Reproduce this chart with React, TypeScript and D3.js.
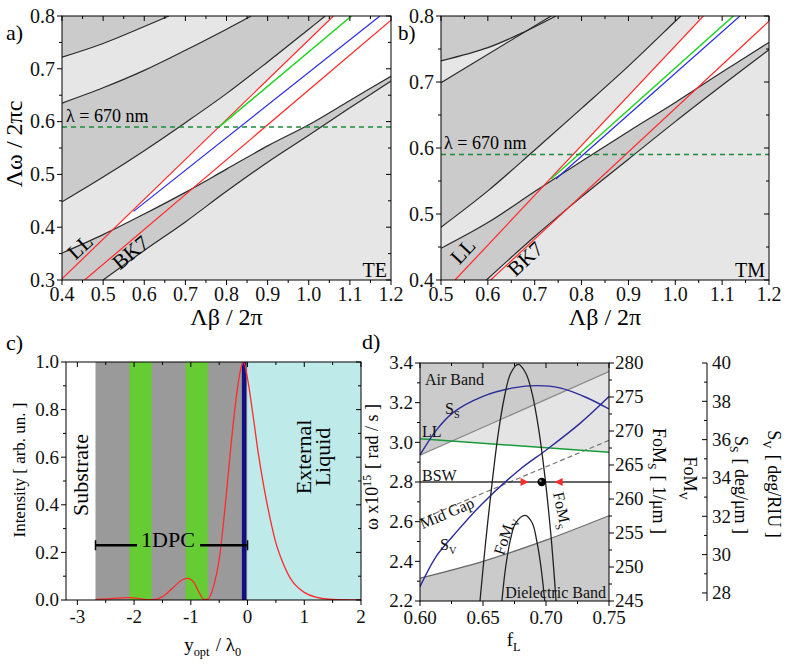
import React from "react";
import * as d3 from "d3";

type Pt = [number, number];

// ---------------- Panel a (TE) ----------------
const aXTicks = [0.4, 0.5, 0.6, 0.7, 0.8, 0.9, 1.0, 1.1, 1.2];
const aYTicks = [0.3, 0.4, 0.5, 0.6, 0.7, 0.8];
const aBand1: Pt[] = [[0.4, 0.722], [0.5, 0.748], [0.6, 0.78], [0.66, 0.8]];
const aBand2: Pt[] = [[0.4, 0.635], [0.5, 0.664], [0.6, 0.697], [0.7, 0.735], [0.8, 0.775], [0.86, 0.8]];
const aBand3: Pt[] = [[0.4, 0.448], [0.5, 0.495], [0.6, 0.545], [0.7, 0.598], [0.8, 0.653], [0.9, 0.713], [1.0, 0.775], [1.04, 0.8]];
const aBand4: Pt[] = [[0.4, 0.351], [0.5, 0.386], [0.6, 0.425], [0.7, 0.466], [0.8, 0.51], [0.9, 0.554], [1.0, 0.594], [1.1, 0.64], [1.2, 0.686]];
const aBand5: Pt[] = [[0.5, 0.3], [0.6, 0.356], [0.7, 0.41], [0.8, 0.468], [0.9, 0.523], [1.0, 0.574], [1.1, 0.626], [1.2, 0.677]];
const aLL: Pt[] = [[0.4, 0.302], [1.06, 0.8]];
const aBK7: Pt[] = [[0.455, 0.3], [1.2, 0.792]];
const aGreen: Pt[] = [[0.782, 0.59], [1.104, 0.8]];
const aBlue: Pt[] = [[0.574, 0.43], [1.173, 0.8]];

// ---------------- Panel b (TM) ----------------
const bXTicks = [0.5, 0.6, 0.7, 0.8, 0.9, 1.0, 1.1, 1.2];
const bYTicks = [0.4, 0.5, 0.6, 0.7, 0.8];
const bBand1: Pt[] = [[0.5, 0.732], [0.6, 0.752], [0.681, 0.777], [0.745, 0.8]];
const bBand2: Pt[] = [[0.5, 0.699], [0.735, 0.8]];
const bBandC: Pt[] = [[0.5, 0.48], [0.6, 0.535], [0.7, 0.597], [0.8, 0.66], [0.9, 0.724], [1.0, 0.792], [1.012, 0.8]];
const bBandD: Pt[] = [[0.5, 0.448], [0.6, 0.487], [0.7, 0.534], [0.8, 0.58], [0.9, 0.625], [1.0, 0.669], [1.1, 0.715], [1.2, 0.76]];
const bBandE: Pt[] = [[0.597, 0.4], [0.7, 0.466], [0.8, 0.526], [0.9, 0.583], [1.0, 0.64], [1.1, 0.695], [1.2, 0.749]];
const bLL: Pt[] = [[0.53, 0.4], [1.06, 0.8]];
const bBK7: Pt[] = [[0.606, 0.4], [1.2, 0.792]];
const bGreen: Pt[] = [[0.735, 0.553], [1.124, 0.8]];
const bBlue: Pt[] = [[0.745, 0.553], [1.138, 0.8]];
const lambdaLevel = 0.59;

// ---------------- Panel c (field profile) ----------------
const cXTicks = [-3, -2, -1, 0, 1, 2];
const cYTicks = [0, 0.2, 0.4, 0.6, 0.8, 1.0];
const cSubstrateEnd = -2.68;
const cGreenLayers: Pt[] = [[-2.08, -1.69], [-1.09, -0.7]];
const cMetal: Pt = [-0.1, -0.02];
const cIntX = [-2.68, -2.4, -2.1, -1.9, -1.75, -1.6, -1.45, -1.3, -1.15, -1.05, -0.95, -0.85, -0.77, -0.7, -0.6, -0.5, -0.4, -0.3, -0.2, -0.13, -0.07, 0, 0.1, 0.2, 0.3, 0.4, 0.5, 0.6, 0.7, 0.8, 0.9, 1.0, 1.2, 1.5, 2.0];
const cIntY = [0.003, 0.006, 0.01, 0.006, 0.001, 0.004, 0.022, 0.055, 0.085, 0.091, 0.075, 0.03, 0.002, 0.004, 0.056, 0.17, 0.38, 0.63, 0.85, 0.96, 1.0, 0.93, 0.77, 0.6, 0.46, 0.34, 0.24, 0.17, 0.115, 0.075, 0.05, 0.032, 0.012, 0.002, 0.0];
const cBracketY = 0.23;

// ---------------- Panel d (optimisation) ----------------
const dXTicks = [0.6, 0.65, 0.7, 0.75];
const dYTicks = [2.2, 2.4, 2.6, 2.8, 3.0, 3.2, 3.4];
const dFoMTicks = [245, 250, 255, 260, 265, 270, 275, 280];
const dSensTicks = [28, 30, 32, 34, 36, 38, 40];
const dAirLine: Pt[] = [[0.6, 2.935], [0.75, 3.357]];
const dLLLine: Pt[] = [[0.6, 3.018], [0.75, 2.95]];
const dMidGap: Pt[] = [[0.6, 2.61], [0.75, 3.01]];
const dDielectric: Pt[] = [[0.6, 2.315], [0.65, 2.4], [0.7, 2.507], [0.75, 2.63]];
const dBSW = 2.8;
const dSsX = [0.6, 0.613, 0.626, 0.65, 0.674, 0.693, 0.711, 0.732, 0.75];
const dSsY = [35.2, 36.5, 37.4, 38.26, 38.7, 38.82, 38.7, 38.2, 37.6];
const dSvX = [0.6, 0.613, 0.626, 0.65, 0.679, 0.7, 0.727, 0.75];
const dSvY = [28.33, 29.92, 30.96, 32.7, 34.43, 35.45, 36.85, 38.25];
const dFoMsX = [0.6476, 0.652, 0.657, 0.662, 0.667, 0.672, 0.678, 0.684, 0.689, 0.694, 0.699, 0.704, 0.708];
const dFoMsY = [245, 253.5, 262, 269.5, 275, 278.5, 279.8, 278.5, 275.5, 270.5, 263.5, 254.5, 245];
const dFoMvX = [0.665, 0.668, 0.672, 0.676, 0.6835, 0.689, 0.693, 0.696, 0.699];
const dFoMvY = [245, 250, 254.2, 256.5, 257.6, 256.5, 253.5, 250, 245];
const dOptimum: Pt = [0.6966, 2.8];
const dRangeMarks = [0.683, 0.71];

// ---------------- Scales ----------------
const axs = d3.scaleLinear().domain([0.4, 1.2]).range([62, 391]);
const ays = d3.scaleLinear().domain([0.3, 0.8]).range([280, 16]);
const bxs = d3.scaleLinear().domain([0.5, 1.2]).range([441, 769]);
const bys = d3.scaleLinear().domain([0.4, 0.8]).range([280, 16]);
const cxs = d3.scaleLinear().domain([-3.2, 2]).range([66, 361]);
const cys = d3.scaleLinear().domain([0, 1]).range([600, 362]);
const dxs = d3.scaleLinear().domain([0.6, 0.75]).range([420, 609]);
const dys = d3.scaleLinear().domain([2.2, 3.4]).range([601, 363]);
const dFoM = d3.scaleLinear().domain([245, 280]).range([601, 363]);
const dSens = d3.scaleLinear().domain([27.58, 40]).range([601, 363]);

const FONT = "'Liberation Serif', 'Times New Roman', serif";
const DARK = "#cbcbcb";
const LIGHT = "#e6e6e6";
const RED = "#ff2a2a";
const GREEN = "#22d422";
const BLUE = "#2a2ae0";
const LINE = "#2a2a2a";

function tools(xs: any, ys: any) {
  const cur = d3.line<Pt>().x(d => xs(d[0])).y(d => ys(d[1])).curve(d3.curveCatmullRom.alpha(0.5));
  const lin = d3.line<Pt>().x(d => xs(d[0])).y(d => ys(d[1]));
  const band = (up: Pt[], lo: Pt[], extra: Pt[] = []) =>
    cur(up)! + cur([...lo].reverse())!.replace(/^M/, "L") + extra.map(p => `L${xs(p[0])},${ys(p[1])}`).join("") + "Z";
  const above = (pts: Pt[], top: number) => {
    const f = pts[0], l = pts[pts.length - 1];
    return cur(pts)! + `L${xs(l[0])},${ys(top)}L${xs(f[0])},${ys(top)}Z`;
  };
  const below = (pts: Pt[], bot: number) => {
    const f = pts[0], l = pts[pts.length - 1];
    return cur(pts)! + `L${xs(l[0])},${ys(bot)}L${xs(f[0])},${ys(bot)}Z`;
  };
  const poly = (pts: Pt[]) => lin(pts)! + "Z";
  return { cur, lin, band, above, below, poly };
}

const mids = (t: number[]) => t.slice(0, -1).map((v, i) => (v + t[i + 1]) / 2);

type TickProps = {
  scale: any; side: "bottom" | "top" | "left" | "right"; pos: number; major: number[]; minor?: number[];
  len?: number; mlen?: number; out?: boolean; fmt?: (v: number) => string; fs?: number; gap?: number;
};
function Ticks({ scale, side, pos, major, minor = [], len = 5, mlen = 3, out = true, fmt, fs = 20, gap = 2 }: TickProps) {
  const sgn = side === "bottom" || side === "right" ? 1 : -1;
  const d = out ? sgn : -sgn;
  const horiz = side === "bottom" || side === "top";
  const tick = (v: number, L: number, key: string) => {
    const p = scale(v);
    return horiz
      ? <line key={key} x1={p} x2={p} y1={pos} y2={pos + d * L} />
      : <line key={key} y1={p} y2={p} x1={pos} x2={pos + d * L} />;
  };
  const off = (out ? len : 0) + gap;
  return (
    <g>
      <g stroke="#000" strokeWidth={1}>
        {major.map((v, i) => tick(v, len, "M" + i))}
        {minor.map((v, i) => tick(v, mlen, "m" + i))}
      </g>
      {fmt && (
        <g fontSize={fs} fill="#111">
          {major.map((v, i) => {
            const p = scale(v);
            if (side === "bottom") return <text key={i} x={p} y={pos + off + fs * 0.72} textAnchor="middle">{fmt(v)}</text>;
            if (side === "left") return <text key={i} x={pos - off} y={p + fs * 0.34} textAnchor="end">{fmt(v)}</text>;
            if (side === "right") return <text key={i} x={pos + off} y={p + fs * 0.34} textAnchor="start">{fmt(v)}</text>;
            return null;
          })}
        </g>
      )}
    </g>
  );
}

const Sub = ({ t, fs, up = false }: { t: string; fs: number; up?: boolean }) => (
  <>
    <tspan dy={up ? -fs * 0.38 : fs * 0.28} fontSize={fs * 0.65}>{t}</tspan>
    <tspan dy={up ? fs * 0.38 : -fs * 0.28}>{"\u200A"}</tspan>
  </>
);

export default function App() {
  const A = tools(axs, ays);
  const B = tools(bxs, bys);
  const D = tools(dxs, dys);
  const f1 = d3.format(".1f");
  const f2 = d3.format(".2f");
  const fInt = (v: number) => (v < 0 ? "-" + Math.abs(v) : String(v));

  const intensity = d3.line<number>().x((_, i) => cxs(cIntX[i])).y(d => cys(d)).curve(d3.curveMonotoneX)(cIntY)!;
  const ssPath = d3.line<number>().x((_, i) => dxs(dSsX[i])).y(d => dSens(d)).curve(d3.curveCatmullRom.alpha(0.5))(dSsY)!;
  const svPath = d3.line<number>().x((_, i) => dxs(dSvX[i])).y(d => dSens(d)).curve(d3.curveCatmullRom.alpha(0.5))(dSvY)!;
  const fomS = d3.line<number>().x((_, i) => dxs(dFoMsX[i])).y(d => dFoM(d)).curve(d3.curveCatmullRom.alpha(0.5))(dFoMsY)!;
  const fomV = d3.line<number>().x((_, i) => dxs(dFoMvX[i])).y(d => dFoM(d)).curve(d3.curveCatmullRom.alpha(0.5))(dFoMvY)!;

  const [ax0, ax1] = axs.range(); const [ay0, ay1] = ays.range();
  const [bx0, bx1] = bxs.range(); const [by0, by1] = bys.range();
  const [cx0, cx1] = cxs.range(); const [cy0, cy1] = cys.range();
  const [dx0, dx1] = dxs.range(); const [dy0, dy1] = dys.range();

  const tri = (x: number, y: number, dir: number) => `M${x - 4 * dir},${y - 4}L${x + 4 * dir},${y}L${x - 4 * dir},${y + 4}Z`;

  return (
    <svg width={791} height={665} viewBox="0 0 791 665" fontFamily={FONT}
      style={{ position: "absolute", left: 0, top: 0, background: "#fff" }}>
      <defs>
        <clipPath id="clipA"><rect x={ax0} y={ay1} width={ax1 - ax0} height={ay0 - ay1} /></clipPath>
        <clipPath id="clipB"><rect x={bx0} y={by1} width={bx1 - bx0} height={by0 - by1} /></clipPath>
        <clipPath id="clipC"><rect x={cx0} y={cy1} width={cx1 - cx0} height={cy0 - cy1} /></clipPath>
        <clipPath id="clipD"><rect x={dx0} y={dy1} width={dx1 - dx0} height={dy0 - dy1} /></clipPath>
        <clipPath id="belowLLA"><path d={A.poly([aLL[0], aLL[1], [1.2, 0.8], [1.2, 0.3], [0.4, 0.3]])} /></clipPath>
        <clipPath id="belowLLB"><path d={B.poly([bLL[0], bLL[1], [1.2, 0.8], [1.2, 0.4]])} /></clipPath>
      </defs>

      {/* ===================== Panel a ===================== */}
      <g clipPath="url(#clipA)">
        <rect x={ax0} y={ay1} width={ax1 - ax0} height={ay0 - ay1} fill={LIGHT} />
        <path d={A.above(aBand1, 0.8)} fill={DARK} />
        <path d={A.band(aBand2, aBand3)} fill={DARK} />
        <path d={A.band(aBand4, aBand5, [[0.4, 0.3]])} fill={DARK} />
        <path d={A.above(aBand4, 0.8)} fill="#fff" clipPath="url(#belowLLA)" />
        {[aBand1, aBand2, aBand3, aBand4, aBand5].map((b, i) => (
          <path key={i} d={A.cur(b)!} fill="none" stroke={LINE} strokeWidth={1.2} />
        ))}
        <path d={A.lin(aLL)!} stroke={RED} strokeWidth={1.2} fill="none" />
        <path d={A.lin(aBK7)!} stroke={RED} strokeWidth={1.2} fill="none" />
        <path d={A.lin(aBlue)!} stroke={BLUE} strokeWidth={1.2} fill="none" />
        <path d={A.lin(aGreen)!} stroke={GREEN} strokeWidth={1.5} fill="none" />
        <line x1={ax0} x2={ax1} y1={ays(lambdaLevel)} y2={ays(lambdaLevel)} stroke="#1e8c3a" strokeWidth={1.5} strokeDasharray="5,4" />
      </g>
      <rect x={ax0} y={ay1} width={ax1 - ax0} height={ay0 - ay1} fill="none" stroke="#000" />
      <Ticks scale={axs} side="bottom" pos={ay0} major={aXTicks} minor={mids(aXTicks)} fmt={f1} />
      <Ticks scale={axs} side="top" pos={ay1} major={aXTicks} minor={mids(aXTicks)} out={false} />
      <Ticks scale={ays} side="left" pos={ax0} major={aYTicks} minor={mids(aYTicks)} fmt={f1} />
      <Ticks scale={ays} side="right" pos={ax1} major={aYTicks} minor={mids(aYTicks)} out={false} />
      <text x={66} y={122} fontSize={18}>λ = 670 nm</text>
      <text x={387} y={277} fontSize={20} textAnchor="end">TE</text>
      <text transform={`translate(85,252) rotate(-43)`} fontSize={21} textAnchor="middle">LL</text>
      <text transform={`translate(135,258) rotate(-40)`} fontSize={21} textAnchor="middle">BK7</text>
      <text x={6} y={40} fontSize={22}>a)</text>
      <text transform="translate(22,144) rotate(-90)" fontSize={24} textAnchor="middle">Λω / 2πc</text>
      <text x={(ax0 + ax1) / 2} y={325} fontSize={24} textAnchor="middle">Λβ / 2π</text>

      {/* ===================== Panel b ===================== */}
      <g clipPath="url(#clipB)">
        <rect x={bx0} y={by1} width={bx1 - bx0} height={by0 - by1} fill={LIGHT} />
        <path d={B.above(bBandC, 0.8)} fill={DARK} />
        <path d={B.band(bBand1, bBand2)} fill={LIGHT} />
        <path d={B.band(bBandD, bBandE, [[0.5, 0.4]])} fill={DARK} />
        <path d={B.above(bBandD, 0.8)} fill="#fff" clipPath="url(#belowLLB)" />
        {[bBand1, bBand2, bBandC, bBandD, bBandE].map((b, i) => (
          <path key={i} d={B.cur(b)!} fill="none" stroke={LINE} strokeWidth={1.2} />
        ))}
        <path d={B.lin(bLL)!} stroke={RED} strokeWidth={1.2} fill="none" />
        <path d={B.lin(bBK7)!} stroke={RED} strokeWidth={1.2} fill="none" />
        <path d={B.lin(bBlue)!} stroke={BLUE} strokeWidth={1.2} fill="none" />
        <path d={B.lin(bGreen)!} stroke={GREEN} strokeWidth={1.5} fill="none" />
        <line x1={bx0} x2={bx1} y1={bys(lambdaLevel)} y2={bys(lambdaLevel)} stroke="#1e8c3a" strokeWidth={1.5} strokeDasharray="5,4" />
      </g>
      <rect x={bx0} y={by1} width={bx1 - bx0} height={by0 - by1} fill="none" stroke="#000" />
      <Ticks scale={bxs} side="bottom" pos={by0} major={bXTicks} minor={mids(bXTicks)} fmt={f1} />
      <Ticks scale={bxs} side="top" pos={by1} major={bXTicks} minor={mids(bXTicks)} out={false} />
      <Ticks scale={bys} side="left" pos={bx0} major={bYTicks} minor={mids(bYTicks)} fmt={f1} />
      <Ticks scale={bys} side="right" pos={bx1} major={bYTicks} minor={mids(bYTicks)} out={false} />
      <text x={444} y={149} fontSize={18}>λ = 670 nm</text>
      <text x={765} y={277} fontSize={20} textAnchor="end">TM</text>
      <text transform={`translate(468,256) rotate(-47)`} fontSize={21} textAnchor="middle">LL</text>
      <text transform={`translate(530,264) rotate(-43)`} fontSize={21} textAnchor="middle">BK7</text>
      <text x={398} y={40} fontSize={21}>b)</text>
      <text x={(bx0 + bx1) / 2} y={325} fontSize={24} textAnchor="middle">Λβ / 2π</text>

      {/* ===================== Panel c ===================== */}
      <g clipPath="url(#clipC)">
        <rect x={cxs(cSubstrateEnd)} y={cy1} width={cxs(0) - cxs(cSubstrateEnd)} height={cy0 - cy1} fill="#9a9a9a" />
        {cGreenLayers.map((g, i) => (
          <rect key={i} x={cxs(g[0])} y={cy1} width={cxs(g[1]) - cxs(g[0])} height={cy0 - cy1} fill="#66cc33" />
        ))}
        <rect x={cxs(0)} y={cy1} width={cx1 - cxs(0)} height={cy0 - cy1} fill="#bfeaea" />
        <rect x={cxs(cMetal[0])} y={cy1} width={cxs(cMetal[1]) - cxs(cMetal[0])} height={cy0 - cy1} fill="#101080" />
        <path d={intensity} fill="none" stroke={RED} strokeWidth={1.3} />
      </g>
      <rect x={cx0} y={cy1} width={cx1 - cx0} height={cy0 - cy1} fill="none" stroke="#000" />
      <Ticks scale={cxs} side="bottom" pos={cy0} major={cXTicks} minor={mids(cXTicks)} fmt={fInt} fs={19} gap={4} />
      <Ticks scale={cxs} side="top" pos={cy1} major={cXTicks} minor={mids(cXTicks)} out={false} />
      <Ticks scale={cys} side="left" pos={cx0} major={cYTicks} minor={mids(cYTicks)} fmt={f1} fs={19} />
      <Ticks scale={cys} side="right" pos={cx1} major={cYTicks} minor={mids(cYTicks)} out={false} />
      {/* 1DPC bracket */}
      <g stroke="#000" strokeWidth={2.5}>
        <line x1={cxs(cSubstrateEnd)} x2={137} y1={cys(cBracketY)} y2={cys(cBracketY)} />
        <line x1={200} x2={cxs(0)} y1={cys(cBracketY)} y2={cys(cBracketY)} />
        <line x1={cxs(cSubstrateEnd)} x2={cxs(cSubstrateEnd)} y1={cys(cBracketY) - 5} y2={cys(cBracketY) + 5} strokeWidth={1.5} />
        <line x1={cxs(0)} x2={cxs(0)} y1={cys(cBracketY) - 5} y2={cys(cBracketY) + 5} strokeWidth={1.5} />
      </g>
      <text x={168} y={547} fontSize={22} textAnchor="middle">1DPC</text>
      <text transform="translate(88,475) rotate(-90)" fontSize={22} textAnchor="middle">Substrate</text>
      <text transform="translate(311,457) rotate(-90)" fontSize={22} textAnchor="middle">External</text>
      <text transform="translate(330,457) rotate(-90)" fontSize={22} textAnchor="middle">Liquid</text>
      <text x={6} y={350} fontSize={22}>c)</text>
      <text transform="translate(25,470) rotate(-90)" fontSize={17} textAnchor="middle">Intensity [ arb. un. ]</text>
      <text x={(cx0 + cx1) / 2} y={651} fontSize={19} textAnchor="middle">y<Sub t="opt" fs={19} /> / λ<Sub t="0" fs={19} /></text>

      {/* ===================== Panel d ===================== */}
      <g clipPath="url(#clipD)">
        <rect x={dx0} y={dy1} width={dx1 - dx0} height={dy0 - dy1} fill="#fff" />
        <path d={D.above(dLLLine, 3.4)} fill="#e4e4e4" />
        <path d={D.above(dAirLine, 3.4)} fill={DARK} />
        <path d={D.below(dDielectric, 2.2)} fill={DARK} />
        <path d={D.lin(dAirLine)!} stroke="#8a8a8a" strokeWidth={1.2} fill="none" />
        <path d={D.cur(dDielectric)!} stroke="#666" strokeWidth={1.2} fill="none" />
        <path d={D.lin(dMidGap)!} stroke="#777" strokeWidth={1.2} strokeDasharray="5,3" fill="none" />
        <path d={D.lin(dLLLine)!} stroke="#1a9a3a" strokeWidth={1.6} fill="none" />
        <line x1={dx0} x2={dx1} y1={dys(dBSW)} y2={dys(dBSW)} stroke="#333" strokeWidth={1.3} />
        <path d={ssPath} stroke="#2b2b9a" strokeWidth={1.4} fill="none" />
        <path d={svPath} stroke="#2b2b9a" strokeWidth={1.4} fill="none" />
        <path d={fomS} stroke="#222" strokeWidth={1.3} fill="none" />
        <path d={fomV} stroke="#222" strokeWidth={1.3} fill="none" />
        <path d={tri(dxs(dRangeMarks[0]), dys(dBSW), 1)} fill={RED} />
        <path d={tri(dxs(dRangeMarks[1]), dys(dBSW), -1)} fill={RED} />
        <circle cx={dxs(dOptimum[0])} cy={dys(dOptimum[1])} r={4.2} fill="#000" />
        <circle cx={dxs(dOptimum[0]) - 1.3} cy={dys(dOptimum[1]) - 1.3} r={1.3} fill="#888" />
      </g>
      <rect x={dx0} y={dy1} width={dx1 - dx0} height={dy0 - dy1} fill="none" stroke="#000" />
      <Ticks scale={dxs} side="bottom" pos={dy0} major={dXTicks} minor={mids(dXTicks)} fmt={f2} fs={19} gap={4} />
      <Ticks scale={dxs} side="top" pos={dy1} major={dXTicks} minor={mids(dXTicks)} out={false} />
      <Ticks scale={dys} side="left" pos={dx0} major={dYTicks} minor={mids(dYTicks)} fmt={f1} fs={19} />
      <Ticks scale={dFoM} side="right" pos={dx1} major={dFoMTicks} minor={mids(dFoMTicks)} fmt={d3.format("d")} fs={19} gap={1} />
      <line x1={707} x2={707} y1={dy1} y2={dy0} stroke="#000" />
      <Ticks scale={dSens} side="right" pos={707} major={dSensTicks} minor={mids(dSensTicks)} out={false} fmt={d3.format("d")} fs={19} gap={5} />

      <g fontSize={16} fill="#111">
        <text x={425} y={385}>Air Band</text>
        <text x={445} y={414}>S<Sub t="S" fs={16} /></text>
        <text x={422} y={437}>LL</text>
        <text x={422} y={481}>BSW</text>
        <text transform="translate(449,518) rotate(-23)" textAnchor="middle">Mid Gap</text>
        <text x={440} y={550}>S<Sub t="V" fs={16} /></text>
        <text transform="translate(510,537) rotate(-72)" textAnchor="middle">FoM<Sub t="V" fs={16} /></text>
        <text transform="translate(557,512) rotate(78)" textAnchor="middle">FoM<Sub t="S" fs={16} /></text>
        <text x={606} y={598} textAnchor="end">Dielectric Band</text>
      </g>
      <text x={362} y={349} fontSize={22}>d)</text>
      <text transform="translate(378,467) rotate(-90)" fontSize={18} textAnchor="middle">ω x10<Sub t="15" fs={18} up /> [ rad / s ]</text>
      <text x={(dx0 + dx1) / 2} y={646} fontSize={19} textAnchor="middle">f<Sub t="L" fs={19} /></text>
      <text transform="translate(653,481) rotate(90)" fontSize={18} textAnchor="middle">FoM<Sub t="S" fs={18} /> [ 1/μm ]</text>
      <text transform="translate(684,479) rotate(90)" fontSize={18} textAnchor="middle">FoM<Sub t="V" fs={18} /></text>
      <text transform="translate(735,485) rotate(90)" fontSize={18} textAnchor="middle">S<Sub t="S" fs={18} /> [ deg/μm ]</text>
      <text transform="translate(768,484) rotate(90)" fontSize={18} textAnchor="middle">S<Sub t="V" fs={18} /> [ deg/RIU ]</text>
    </svg>
  );
}
